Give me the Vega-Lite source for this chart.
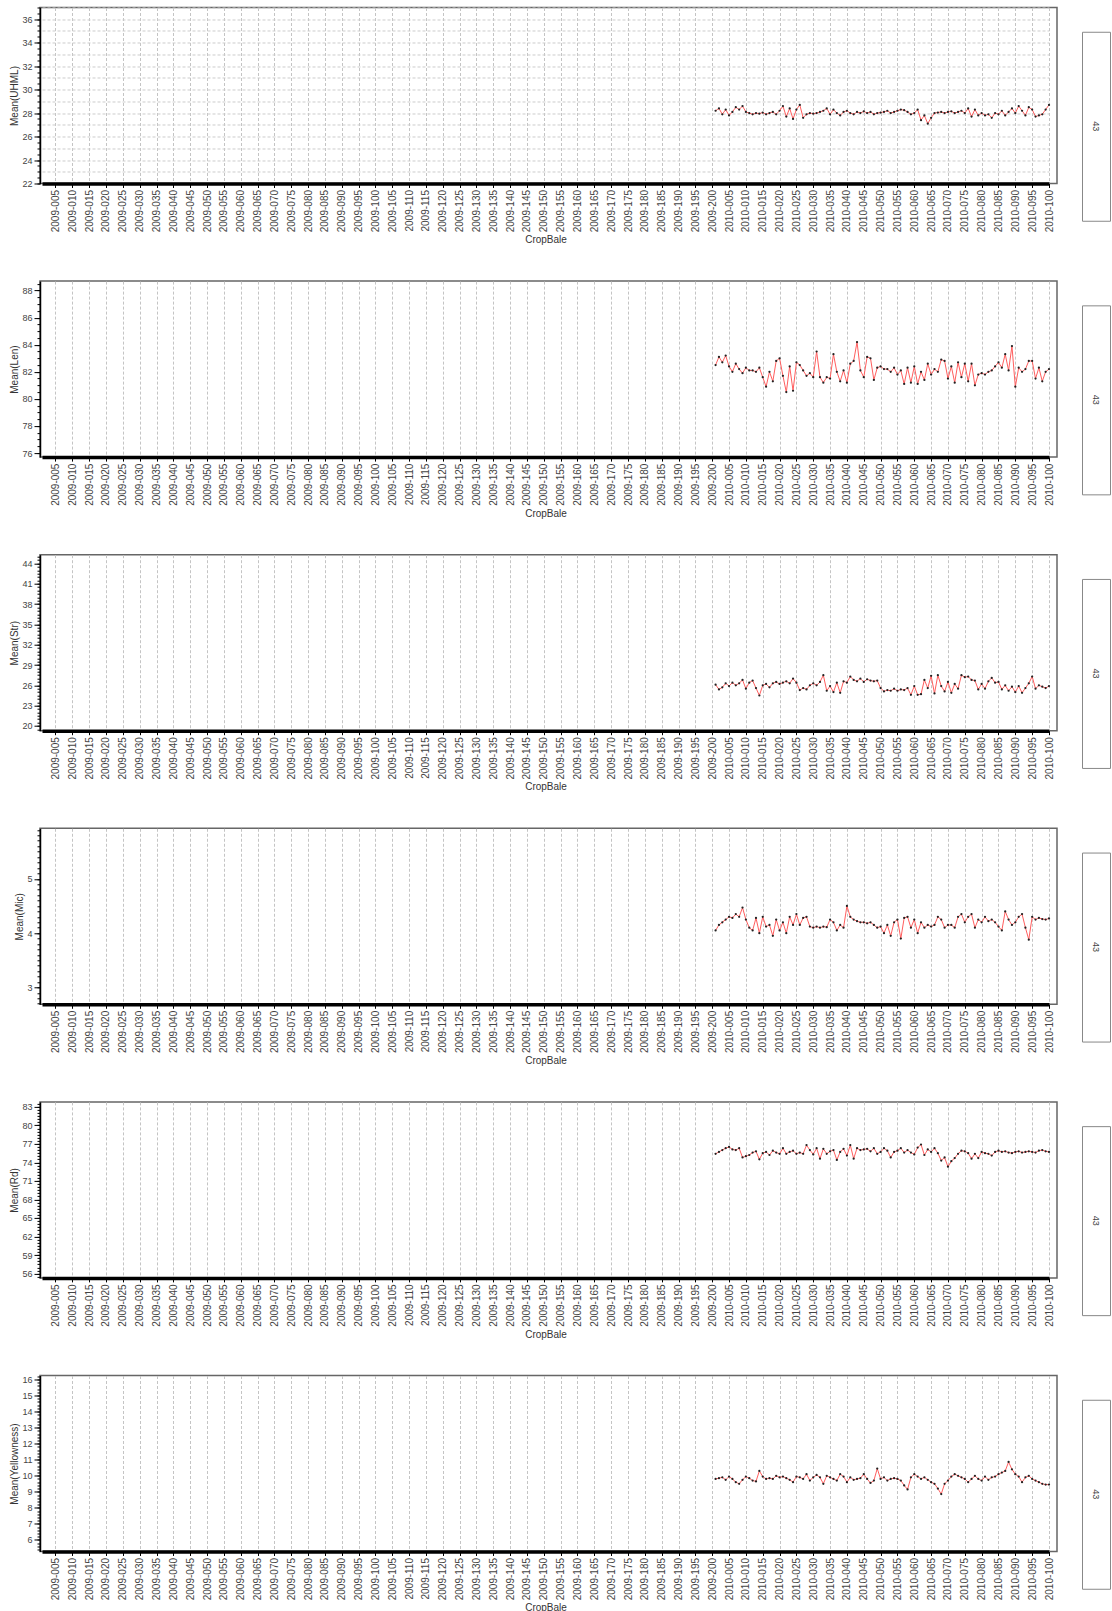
{
"$schema": "https://vega.github.io/schema/vega-lite/v6.json",
"background": "white",
"padding": {"left": 9, "top": 6, "right": 0, "bottom": 0},
"config": {"font": "Liberation Sans", "view": {"stroke": "#666", "strokeWidth": 1.5}, "concat": {"spacing": 23}},
"datasets": {"bales": [
{"CropBale":"2010-001","UHML":28.2,"Len":82.5,"Str":26.1,"Mic":4.05,"Rd":75.4,"Yellowness":9.8},
{"CropBale":"2010-002","UHML":28.4,"Len":83.1,"Str":25.4,"Mic":4.15,"Rd":75.7,"Yellowness":9.85},
{"CropBale":"2010-003","UHML":27.9,"Len":82.7,"Str":25.7,"Mic":4.2,"Rd":76.0,"Yellowness":9.9},
{"CropBale":"2010-004","UHML":28.3,"Len":83.2,"Str":26.3,"Mic":4.25,"Rd":76.3,"Yellowness":9.75},
{"CropBale":"2010-005","UHML":27.8,"Len":82.4,"Str":25.9,"Mic":4.3,"Rd":76.5,"Yellowness":9.95},
{"CropBale":"2010-006","UHML":28.1,"Len":82.0,"Str":26.4,"Mic":4.28,"Rd":76.1,"Yellowness":9.8},
{"CropBale":"2010-007","UHML":28.5,"Len":82.6,"Str":26.0,"Mic":4.35,"Rd":76.0,"Yellowness":9.6},
{"CropBale":"2010-008","UHML":28.3,"Len":82.2,"Str":26.3,"Mic":4.3,"Rd":76.3,"Yellowness":9.5},
{"CropBale":"2010-009","UHML":28.6,"Len":81.9,"Str":26.8,"Mic":4.47,"Rd":74.8,"Yellowness":9.75},
{"CropBale":"2010-010","UHML":28.1,"Len":82.3,"Str":25.5,"Mic":4.25,"Rd":75.0,"Yellowness":9.95},
{"CropBale":"2010-011","UHML":28.0,"Len":82.1,"Str":26.4,"Mic":4.1,"Rd":75.2,"Yellowness":9.85},
{"CropBale":"2010-012","UHML":27.9,"Len":82.1,"Str":26.7,"Mic":4.05,"Rd":75.6,"Yellowness":9.7},
{"CropBale":"2010-013","UHML":28.0,"Len":82.0,"Str":25.6,"Mic":4.28,"Rd":75.8,"Yellowness":9.65},
{"CropBale":"2010-014","UHML":27.95,"Len":82.3,"Str":24.5,"Mic":4.0,"Rd":74.5,"Yellowness":10.3},
{"CropBale":"2010-015","UHML":28.05,"Len":81.6,"Str":26.0,"Mic":4.3,"Rd":75.5,"Yellowness":9.95},
{"CropBale":"2010-016","UHML":27.9,"Len":80.9,"Str":26.2,"Mic":4.12,"Rd":75.7,"Yellowness":9.8},
{"CropBale":"2010-017","UHML":28.0,"Len":82.0,"Str":25.7,"Mic":4.15,"Rd":75.2,"Yellowness":9.85},
{"CropBale":"2010-018","UHML":28.1,"Len":81.3,"Str":26.3,"Mic":3.95,"Rd":75.9,"Yellowness":9.8},
{"CropBale":"2010-019","UHML":27.9,"Len":82.8,"Str":26.5,"Mic":4.25,"Rd":75.6,"Yellowness":10.0},
{"CropBale":"2010-020","UHML":28.2,"Len":83.0,"Str":26.2,"Mic":4.05,"Rd":75.4,"Yellowness":9.9},
{"CropBale":"2010-021","UHML":28.6,"Len":81.7,"Str":26.4,"Mic":4.2,"Rd":76.3,"Yellowness":9.95},
{"CropBale":"2010-022","UHML":27.7,"Len":80.5,"Str":26.6,"Mic":4.0,"Rd":75.4,"Yellowness":9.85},
{"CropBale":"2010-023","UHML":28.4,"Len":82.4,"Str":26.3,"Mic":4.3,"Rd":75.7,"Yellowness":9.75},
{"CropBale":"2010-024","UHML":27.5,"Len":80.6,"Str":27.0,"Mic":4.15,"Rd":75.9,"Yellowness":9.6},
{"CropBale":"2010-025","UHML":28.3,"Len":82.7,"Str":26.4,"Mic":4.35,"Rd":75.4,"Yellowness":9.95},
{"CropBale":"2010-026","UHML":28.7,"Len":82.5,"Str":25.3,"Mic":4.15,"Rd":75.6,"Yellowness":9.9},
{"CropBale":"2010-027","UHML":27.6,"Len":82.1,"Str":25.6,"Mic":4.28,"Rd":75.4,"Yellowness":9.8},
{"CropBale":"2010-028","UHML":27.9,"Len":81.7,"Str":25.4,"Mic":4.3,"Rd":76.8,"Yellowness":10.1},
{"CropBale":"2010-029","UHML":28.0,"Len":81.9,"Str":26.0,"Mic":4.12,"Rd":76.0,"Yellowness":9.7},
{"CropBale":"2010-030","UHML":27.95,"Len":81.6,"Str":26.3,"Mic":4.1,"Rd":75.3,"Yellowness":9.9},
{"CropBale":"2010-031","UHML":28.0,"Len":83.5,"Str":26.0,"Mic":4.12,"Rd":76.3,"Yellowness":10.05},
{"CropBale":"2010-032","UHML":28.1,"Len":81.6,"Str":26.5,"Mic":4.1,"Rd":74.6,"Yellowness":9.9},
{"CropBale":"2010-033","UHML":28.2,"Len":81.2,"Str":27.5,"Mic":4.12,"Rd":76.2,"Yellowness":9.5},
{"CropBale":"2010-034","UHML":28.4,"Len":81.6,"Str":25.2,"Mic":4.11,"Rd":75.4,"Yellowness":10.0},
{"CropBale":"2010-035","UHML":27.9,"Len":81.5,"Str":25.9,"Mic":4.25,"Rd":75.8,"Yellowness":9.9},
{"CropBale":"2010-036","UHML":28.3,"Len":83.3,"Str":25.0,"Mic":4.2,"Rd":76.0,"Yellowness":9.8},
{"CropBale":"2010-037","UHML":28.0,"Len":82.0,"Str":26.4,"Mic":4.05,"Rd":74.4,"Yellowness":9.7},
{"CropBale":"2010-038","UHML":27.8,"Len":81.3,"Str":24.9,"Mic":4.15,"Rd":75.7,"Yellowness":10.1},
{"CropBale":"2010-039","UHML":28.1,"Len":82.1,"Str":26.6,"Mic":4.1,"Rd":76.2,"Yellowness":9.95},
{"CropBale":"2010-040","UHML":28.2,"Len":81.2,"Str":26.4,"Mic":4.5,"Rd":75.1,"Yellowness":9.6},
{"CropBale":"2010-041","UHML":28.0,"Len":82.6,"Str":27.3,"Mic":4.3,"Rd":76.8,"Yellowness":9.9},
{"CropBale":"2010-042","UHML":27.9,"Len":82.8,"Str":26.8,"Mic":4.25,"Rd":74.6,"Yellowness":9.75},
{"CropBale":"2010-043","UHML":28.1,"Len":84.2,"Str":26.6,"Mic":4.22,"Rd":76.3,"Yellowness":9.8},
{"CropBale":"2010-044","UHML":28.0,"Len":82.1,"Str":27.0,"Mic":4.2,"Rd":76.0,"Yellowness":9.85},
{"CropBale":"2010-045","UHML":28.15,"Len":81.6,"Str":26.5,"Mic":4.2,"Rd":76.1,"Yellowness":10.1},
{"CropBale":"2010-046","UHML":28.0,"Len":83.1,"Str":26.9,"Mic":4.18,"Rd":76.2,"Yellowness":9.8},
{"CropBale":"2010-047","UHML":28.1,"Len":83.0,"Str":26.7,"Mic":4.2,"Rd":75.8,"Yellowness":9.55},
{"CropBale":"2010-048","UHML":27.9,"Len":81.4,"Str":26.6,"Mic":4.15,"Rd":76.3,"Yellowness":9.7},
{"CropBale":"2010-049","UHML":28.0,"Len":82.3,"Str":26.7,"Mic":4.1,"Rd":75.4,"Yellowness":10.45},
{"CropBale":"2010-050","UHML":28.05,"Len":82.4,"Str":25.6,"Mic":4.12,"Rd":75.7,"Yellowness":9.8},
{"CropBale":"2010-051","UHML":28.1,"Len":82.2,"Str":25.1,"Mic":4.0,"Rd":76.3,"Yellowness":9.9},
{"CropBale":"2010-052","UHML":28.2,"Len":82.2,"Str":25.3,"Mic":4.15,"Rd":75.9,"Yellowness":9.7},
{"CropBale":"2010-053","UHML":28.0,"Len":82.0,"Str":25.2,"Mic":3.95,"Rd":74.8,"Yellowness":9.8},
{"CropBale":"2010-054","UHML":28.1,"Len":82.3,"Str":25.5,"Mic":4.2,"Rd":75.7,"Yellowness":9.85},
{"CropBale":"2010-055","UHML":28.2,"Len":81.8,"Str":25.2,"Mic":4.25,"Rd":75.9,"Yellowness":9.8},
{"CropBale":"2010-056","UHML":28.3,"Len":82.1,"Str":25.4,"Mic":3.9,"Rd":76.3,"Yellowness":9.7},
{"CropBale":"2010-057","UHML":28.25,"Len":81.1,"Str":25.3,"Mic":4.28,"Rd":75.6,"Yellowness":9.4},
{"CropBale":"2010-058","UHML":28.1,"Len":82.3,"Str":25.6,"Mic":4.3,"Rd":76.0,"Yellowness":9.15},
{"CropBale":"2010-059","UHML":27.9,"Len":81.2,"Str":24.6,"Mic":4.1,"Rd":75.6,"Yellowness":9.9},
{"CropBale":"2010-060","UHML":28.0,"Len":82.4,"Str":25.9,"Mic":4.25,"Rd":75.3,"Yellowness":10.1},
{"CropBale":"2010-061","UHML":28.3,"Len":81.1,"Str":24.6,"Mic":4.0,"Rd":76.4,"Yellowness":9.95},
{"CropBale":"2010-062","UHML":27.4,"Len":82.0,"Str":24.7,"Mic":4.2,"Rd":76.9,"Yellowness":9.8},
{"CropBale":"2010-063","UHML":27.8,"Len":81.4,"Str":26.8,"Mic":4.1,"Rd":75.2,"Yellowness":9.9},
{"CropBale":"2010-064","UHML":27.1,"Len":82.6,"Str":25.6,"Mic":4.15,"Rd":76.1,"Yellowness":9.75},
{"CropBale":"2010-065","UHML":27.6,"Len":81.8,"Str":27.4,"Mic":4.12,"Rd":75.7,"Yellowness":9.6},
{"CropBale":"2010-066","UHML":28.0,"Len":82.2,"Str":24.8,"Mic":4.15,"Rd":76.3,"Yellowness":9.5},
{"CropBale":"2010-067","UHML":28.05,"Len":82.0,"Str":27.5,"Mic":4.3,"Rd":75.5,"Yellowness":9.2},
{"CropBale":"2010-068","UHML":28.1,"Len":82.9,"Str":25.9,"Mic":4.25,"Rd":74.3,"Yellowness":8.86},
{"CropBale":"2010-069","UHML":28.0,"Len":82.8,"Str":25.1,"Mic":4.1,"Rd":74.8,"Yellowness":9.5},
{"CropBale":"2010-070","UHML":28.1,"Len":81.5,"Str":26.5,"Mic":4.15,"Rd":73.3,"Yellowness":9.7},
{"CropBale":"2010-071","UHML":28.15,"Len":82.4,"Str":24.9,"Mic":4.15,"Rd":74.2,"Yellowness":9.95},
{"CropBale":"2010-072","UHML":28.0,"Len":81.2,"Str":26.2,"Mic":4.1,"Rd":74.7,"Yellowness":10.1},
{"CropBale":"2010-073","UHML":28.1,"Len":82.7,"Str":25.5,"Mic":4.3,"Rd":75.4,"Yellowness":10.0},
{"CropBale":"2010-074","UHML":28.2,"Len":81.6,"Str":27.5,"Mic":4.35,"Rd":75.9,"Yellowness":9.9},
{"CropBale":"2010-075","UHML":28.0,"Len":82.6,"Str":27.2,"Mic":4.2,"Rd":75.8,"Yellowness":9.8},
{"CropBale":"2010-076","UHML":28.4,"Len":81.3,"Str":27.3,"Mic":4.3,"Rd":75.5,"Yellowness":9.6},
{"CropBale":"2010-077","UHML":27.7,"Len":82.6,"Str":26.8,"Mic":4.35,"Rd":74.6,"Yellowness":9.8},
{"CropBale":"2010-078","UHML":28.3,"Len":81.0,"Str":26.7,"Mic":4.1,"Rd":75.4,"Yellowness":10.0},
{"CropBale":"2010-079","UHML":27.8,"Len":81.8,"Str":25.4,"Mic":4.25,"Rd":74.7,"Yellowness":9.8},
{"CropBale":"2010-080","UHML":28.0,"Len":81.9,"Str":26.2,"Mic":4.2,"Rd":75.7,"Yellowness":9.7},
{"CropBale":"2010-081","UHML":27.8,"Len":81.8,"Str":25.5,"Mic":4.3,"Rd":75.5,"Yellowness":9.95},
{"CropBale":"2010-082","UHML":27.9,"Len":82.0,"Str":26.6,"Mic":4.22,"Rd":75.4,"Yellowness":9.75},
{"CropBale":"2010-083","UHML":27.6,"Len":82.1,"Str":27.1,"Mic":4.25,"Rd":75.1,"Yellowness":9.9},
{"CropBale":"2010-084","UHML":28.0,"Len":82.4,"Str":26.4,"Mic":4.2,"Rd":75.7,"Yellowness":9.95},
{"CropBale":"2010-085","UHML":27.9,"Len":82.7,"Str":26.5,"Mic":4.12,"Rd":75.9,"Yellowness":10.1},
{"CropBale":"2010-086","UHML":28.2,"Len":82.3,"Str":25.4,"Mic":4.05,"Rd":75.7,"Yellowness":10.2},
{"CropBale":"2010-087","UHML":27.8,"Len":83.3,"Str":26.0,"Mic":4.4,"Rd":75.8,"Yellowness":10.3},
{"CropBale":"2010-088","UHML":28.1,"Len":82.1,"Str":25.2,"Mic":4.25,"Rd":75.6,"Yellowness":10.86},
{"CropBale":"2010-089","UHML":28.4,"Len":83.9,"Str":25.8,"Mic":4.15,"Rd":75.5,"Yellowness":10.4},
{"CropBale":"2010-090","UHML":28.0,"Len":80.9,"Str":25.0,"Mic":4.2,"Rd":75.7,"Yellowness":10.1},
{"CropBale":"2010-091","UHML":28.6,"Len":82.3,"Str":25.9,"Mic":4.3,"Rd":75.8,"Yellowness":9.95},
{"CropBale":"2010-092","UHML":28.2,"Len":82.0,"Str":24.9,"Mic":4.35,"Rd":75.6,"Yellowness":9.6},
{"CropBale":"2010-093","UHML":27.8,"Len":82.2,"Str":25.6,"Mic":4.1,"Rd":75.7,"Yellowness":9.9},
{"CropBale":"2010-094","UHML":28.5,"Len":82.8,"Str":26.3,"Mic":3.88,"Rd":75.8,"Yellowness":10.0},
{"CropBale":"2010-095","UHML":28.3,"Len":82.8,"Str":27.3,"Mic":4.3,"Rd":75.7,"Yellowness":9.8},
{"CropBale":"2010-096","UHML":27.7,"Len":81.5,"Str":25.5,"Mic":4.25,"Rd":75.6,"Yellowness":9.7},
{"CropBale":"2010-097","UHML":27.8,"Len":82.3,"Str":26.0,"Mic":4.28,"Rd":75.9,"Yellowness":9.6},
{"CropBale":"2010-098","UHML":27.9,"Len":81.3,"Str":25.8,"Mic":4.26,"Rd":76.0,"Yellowness":9.5},
{"CropBale":"2010-099","UHML":28.3,"Len":82.0,"Str":25.6,"Mic":4.25,"Rd":75.8,"Yellowness":9.45},
{"CropBale":"2010-100","UHML":28.7,"Len":82.2,"Str":25.9,"Mic":4.27,"Rd":75.7,"Yellowness":9.45}
]},
"vconcat": [
{"center": true, "hconcat": [
{"width": 1017, "height": 176, "data": {"name": "bales"},
 "layer": [
  {"mark": {"type": "line", "color": "#ff5e5e", "strokeWidth": 1},
   "encoding": {
    "x": {"field": "CropBale", "type": "ordinal", "scale": {"type": "point", "padding": 0, "range": [2, 1009], "domain": ["2009-001","2009-002","2009-003","2009-004","2009-005","2009-006","2009-007","2009-008","2009-009","2009-010","2009-011","2009-012","2009-013","2009-014","2009-015","2009-016","2009-017","2009-018","2009-019","2009-020","2009-021","2009-022","2009-023","2009-024","2009-025","2009-026","2009-027","2009-028","2009-029","2009-030","2009-031","2009-032","2009-033","2009-034","2009-035","2009-036","2009-037","2009-038","2009-039","2009-040","2009-041","2009-042","2009-043","2009-044","2009-045","2009-046","2009-047","2009-048","2009-049","2009-050","2009-051","2009-052","2009-053","2009-054","2009-055","2009-056","2009-057","2009-058","2009-059","2009-060","2009-061","2009-062","2009-063","2009-064","2009-065","2009-066","2009-067","2009-068","2009-069","2009-070","2009-071","2009-072","2009-073","2009-074","2009-075","2009-076","2009-077","2009-078","2009-079","2009-080","2009-081","2009-082","2009-083","2009-084","2009-085","2009-086","2009-087","2009-088","2009-089","2009-090","2009-091","2009-092","2009-093","2009-094","2009-095","2009-096","2009-097","2009-098","2009-099","2009-100","2009-101","2009-102","2009-103","2009-104","2009-105","2009-106","2009-107","2009-108","2009-109","2009-110","2009-111","2009-112","2009-113","2009-114","2009-115","2009-116","2009-117","2009-118","2009-119","2009-120","2009-121","2009-122","2009-123","2009-124","2009-125","2009-126","2009-127","2009-128","2009-129","2009-130","2009-131","2009-132","2009-133","2009-134","2009-135","2009-136","2009-137","2009-138","2009-139","2009-140","2009-141","2009-142","2009-143","2009-144","2009-145","2009-146","2009-147","2009-148","2009-149","2009-150","2009-151","2009-152","2009-153","2009-154","2009-155","2009-156","2009-157","2009-158","2009-159","2009-160","2009-161","2009-162","2009-163","2009-164","2009-165","2009-166","2009-167","2009-168","2009-169","2009-170","2009-171","2009-172","2009-173","2009-174","2009-175","2009-176","2009-177","2009-178","2009-179","2009-180","2009-181","2009-182","2009-183","2009-184","2009-185","2009-186","2009-187","2009-188","2009-189","2009-190","2009-191","2009-192","2009-193","2009-194","2009-195","2009-196","2009-197","2009-198","2009-199","2009-200","2010-001","2010-002","2010-003","2010-004","2010-005","2010-006","2010-007","2010-008","2010-009","2010-010","2010-011","2010-012","2010-013","2010-014","2010-015","2010-016","2010-017","2010-018","2010-019","2010-020","2010-021","2010-022","2010-023","2010-024","2010-025","2010-026","2010-027","2010-028","2010-029","2010-030","2010-031","2010-032","2010-033","2010-034","2010-035","2010-036","2010-037","2010-038","2010-039","2010-040","2010-041","2010-042","2010-043","2010-044","2010-045","2010-046","2010-047","2010-048","2010-049","2010-050","2010-051","2010-052","2010-053","2010-054","2010-055","2010-056","2010-057","2010-058","2010-059","2010-060","2010-061","2010-062","2010-063","2010-064","2010-065","2010-066","2010-067","2010-068","2010-069","2010-070","2010-071","2010-072","2010-073","2010-074","2010-075","2010-076","2010-077","2010-078","2010-079","2010-080","2010-081","2010-082","2010-083","2010-084","2010-085","2010-086","2010-087","2010-088","2010-089","2010-090","2010-091","2010-092","2010-093","2010-094","2010-095","2010-096","2010-097","2010-098","2010-099","2010-100"]},
     "axis": {"values": ["2009-005","2009-010","2009-015","2009-020","2009-025","2009-030","2009-035","2009-040","2009-045","2009-050","2009-055","2009-060","2009-065","2009-070","2009-075","2009-080","2009-085","2009-090","2009-095","2009-100","2009-105","2009-110","2009-115","2009-120","2009-125","2009-130","2009-135","2009-140","2009-145","2009-150","2009-155","2009-160","2009-165","2009-170","2009-175","2009-180","2009-185","2009-190","2009-195","2009-200","2010-005","2010-010","2010-015","2010-020","2010-025","2010-030","2010-035","2010-040","2010-045","2010-050","2010-055","2010-060","2010-065","2010-070","2010-075","2010-080","2010-085","2010-090","2010-095","2010-100"], "title": "CropBale", "labelAngle": 270, "labelFontSize": 10, "labelColor": "#444", "labelOverlap": false, "labelPadding": 2, "tickColor": "#000", "tickSize": 4, "domainColor": "#000", "domainWidth": 3.5, "grid": true, "gridColor": "#c4c4c4", "gridDash": [3, 2], "titleFontSize": 10, "titleFontWeight": "normal", "titleColor": "#333", "titlePadding": 3}},
    "y": {"field": "UHML", "type": "quantitative", "scale": {"domain": [22, 37], "nice": false, "zero": false}, "axis": {"title": "Mean(UHML)", "values": [22, 24, 26, 28, 30, 32, 34, 36], "labelFontSize": 9, "labelColor": "#444", "labelFlush": false, "tickSize": 6, "tickColor": "#000", "domainColor": "#000", "domainWidth": 1.5, "grid": false, "titleFontSize": 10, "titleFontWeight": "normal", "titleColor": "#333", "titlePadding": 2}}
   }},
  {"mark": {"type": "point", "filled": true, "color": "#222", "size": 5, "opacity": 1},
   "encoding": {
    "x": {"field": "CropBale", "type": "ordinal"},
    "y": {"field": "UHML", "type": "quantitative", "axis": {"orient": "left", "title": null, "labels": false, "domain": false, "tickSize": 3, "tickColor": "#000", "values": [22, 22.5, 23, 23.5, 24, 24.5, 25, 25.5, 26, 26.5, 27, 27.5, 28, 28.5, 29, 29.5, 30, 30.5, 31, 31.5, 32, 32.5, 33, 33.5, 34, 34.5, 35, 35.5, 36, 36.5, 37], "grid": true, "gridColor": "#cccccc", "gridDash": [3, 2], "gridOpacity": {"condition": {"test": "datum.value % 1 === 0 && datum.value > 22", "value": 1}, "value": 0}}}
   }}
 ],
 "resolve": {"axis": {"y": "independent"}}
},
{"width": 28, "height": 189, "view": {"stroke": "#888", "strokeWidth": 1},
 "data": {"values": [{"Module": "43"}]},
 "mark": {"type": "text", "angle": 90, "fontSize": 9, "color": "#444"},
 "encoding": {"text": {"field": "Module"}}}
]},
{"center": true, "hconcat": [
{"width": 1017, "height": 176, "data": {"name": "bales"},
 "layer": [
  {"mark": {"type": "line", "color": "#ff5e5e", "strokeWidth": 1},
   "encoding": {
    "x": {"field": "CropBale", "type": "ordinal", "scale": {"type": "point", "padding": 0, "range": [2, 1009], "domain": ["2009-001","2009-002","2009-003","2009-004","2009-005","2009-006","2009-007","2009-008","2009-009","2009-010","2009-011","2009-012","2009-013","2009-014","2009-015","2009-016","2009-017","2009-018","2009-019","2009-020","2009-021","2009-022","2009-023","2009-024","2009-025","2009-026","2009-027","2009-028","2009-029","2009-030","2009-031","2009-032","2009-033","2009-034","2009-035","2009-036","2009-037","2009-038","2009-039","2009-040","2009-041","2009-042","2009-043","2009-044","2009-045","2009-046","2009-047","2009-048","2009-049","2009-050","2009-051","2009-052","2009-053","2009-054","2009-055","2009-056","2009-057","2009-058","2009-059","2009-060","2009-061","2009-062","2009-063","2009-064","2009-065","2009-066","2009-067","2009-068","2009-069","2009-070","2009-071","2009-072","2009-073","2009-074","2009-075","2009-076","2009-077","2009-078","2009-079","2009-080","2009-081","2009-082","2009-083","2009-084","2009-085","2009-086","2009-087","2009-088","2009-089","2009-090","2009-091","2009-092","2009-093","2009-094","2009-095","2009-096","2009-097","2009-098","2009-099","2009-100","2009-101","2009-102","2009-103","2009-104","2009-105","2009-106","2009-107","2009-108","2009-109","2009-110","2009-111","2009-112","2009-113","2009-114","2009-115","2009-116","2009-117","2009-118","2009-119","2009-120","2009-121","2009-122","2009-123","2009-124","2009-125","2009-126","2009-127","2009-128","2009-129","2009-130","2009-131","2009-132","2009-133","2009-134","2009-135","2009-136","2009-137","2009-138","2009-139","2009-140","2009-141","2009-142","2009-143","2009-144","2009-145","2009-146","2009-147","2009-148","2009-149","2009-150","2009-151","2009-152","2009-153","2009-154","2009-155","2009-156","2009-157","2009-158","2009-159","2009-160","2009-161","2009-162","2009-163","2009-164","2009-165","2009-166","2009-167","2009-168","2009-169","2009-170","2009-171","2009-172","2009-173","2009-174","2009-175","2009-176","2009-177","2009-178","2009-179","2009-180","2009-181","2009-182","2009-183","2009-184","2009-185","2009-186","2009-187","2009-188","2009-189","2009-190","2009-191","2009-192","2009-193","2009-194","2009-195","2009-196","2009-197","2009-198","2009-199","2009-200","2010-001","2010-002","2010-003","2010-004","2010-005","2010-006","2010-007","2010-008","2010-009","2010-010","2010-011","2010-012","2010-013","2010-014","2010-015","2010-016","2010-017","2010-018","2010-019","2010-020","2010-021","2010-022","2010-023","2010-024","2010-025","2010-026","2010-027","2010-028","2010-029","2010-030","2010-031","2010-032","2010-033","2010-034","2010-035","2010-036","2010-037","2010-038","2010-039","2010-040","2010-041","2010-042","2010-043","2010-044","2010-045","2010-046","2010-047","2010-048","2010-049","2010-050","2010-051","2010-052","2010-053","2010-054","2010-055","2010-056","2010-057","2010-058","2010-059","2010-060","2010-061","2010-062","2010-063","2010-064","2010-065","2010-066","2010-067","2010-068","2010-069","2010-070","2010-071","2010-072","2010-073","2010-074","2010-075","2010-076","2010-077","2010-078","2010-079","2010-080","2010-081","2010-082","2010-083","2010-084","2010-085","2010-086","2010-087","2010-088","2010-089","2010-090","2010-091","2010-092","2010-093","2010-094","2010-095","2010-096","2010-097","2010-098","2010-099","2010-100"]},
     "axis": {"values": ["2009-005","2009-010","2009-015","2009-020","2009-025","2009-030","2009-035","2009-040","2009-045","2009-050","2009-055","2009-060","2009-065","2009-070","2009-075","2009-080","2009-085","2009-090","2009-095","2009-100","2009-105","2009-110","2009-115","2009-120","2009-125","2009-130","2009-135","2009-140","2009-145","2009-150","2009-155","2009-160","2009-165","2009-170","2009-175","2009-180","2009-185","2009-190","2009-195","2009-200","2010-005","2010-010","2010-015","2010-020","2010-025","2010-030","2010-035","2010-040","2010-045","2010-050","2010-055","2010-060","2010-065","2010-070","2010-075","2010-080","2010-085","2010-090","2010-095","2010-100"], "title": "CropBale", "labelAngle": 270, "labelFontSize": 10, "labelColor": "#444", "labelOverlap": false, "labelPadding": 2, "tickColor": "#000", "tickSize": 4, "domainColor": "#000", "domainWidth": 3.5, "grid": true, "gridColor": "#c4c4c4", "gridDash": [3, 2], "titleFontSize": 10, "titleFontWeight": "normal", "titleColor": "#333", "titlePadding": 3}},
    "y": {"field": "Len", "type": "quantitative", "scale": {"domain": [75.7, 88.7], "nice": false, "zero": false}, "axis": {"title": "Mean(Len)", "values": [76, 78, 80, 82, 84, 86, 88], "labelFontSize": 9, "labelColor": "#444", "labelFlush": false, "tickSize": 6, "tickColor": "#000", "domainColor": "#000", "domainWidth": 1.5, "grid": false, "titleFontSize": 10, "titleFontWeight": "normal", "titleColor": "#333", "titlePadding": 2}}
   }},
  {"mark": {"type": "point", "filled": true, "color": "#222", "size": 5, "opacity": 1},
   "encoding": {
    "x": {"field": "CropBale", "type": "ordinal"},
    "y": {"field": "Len", "type": "quantitative", "axis": {"orient": "left", "title": null, "labels": false, "domain": false, "grid": false, "tickSize": 3, "tickColor": "#000", "values": [76, 76.5, 77, 77.5, 78, 78.5, 79, 79.5, 80, 80.5, 81, 81.5, 82, 82.5, 83, 83.5, 84, 84.5, 85, 85.5, 86, 86.5, 87, 87.5, 88, 88.5]}}
   }}
 ],
 "resolve": {"axis": {"y": "independent"}}
},
{"width": 28, "height": 189, "view": {"stroke": "#888", "strokeWidth": 1},
 "data": {"values": [{"Module": "43"}]},
 "mark": {"type": "text", "angle": 90, "fontSize": 9, "color": "#444"},
 "encoding": {"text": {"field": "Module"}}}
]},
{"center": true, "hconcat": [
{"width": 1017, "height": 176, "data": {"name": "bales"},
 "layer": [
  {"mark": {"type": "line", "color": "#ff5e5e", "strokeWidth": 1},
   "encoding": {
    "x": {"field": "CropBale", "type": "ordinal", "scale": {"type": "point", "padding": 0, "range": [2, 1009], "domain": ["2009-001","2009-002","2009-003","2009-004","2009-005","2009-006","2009-007","2009-008","2009-009","2009-010","2009-011","2009-012","2009-013","2009-014","2009-015","2009-016","2009-017","2009-018","2009-019","2009-020","2009-021","2009-022","2009-023","2009-024","2009-025","2009-026","2009-027","2009-028","2009-029","2009-030","2009-031","2009-032","2009-033","2009-034","2009-035","2009-036","2009-037","2009-038","2009-039","2009-040","2009-041","2009-042","2009-043","2009-044","2009-045","2009-046","2009-047","2009-048","2009-049","2009-050","2009-051","2009-052","2009-053","2009-054","2009-055","2009-056","2009-057","2009-058","2009-059","2009-060","2009-061","2009-062","2009-063","2009-064","2009-065","2009-066","2009-067","2009-068","2009-069","2009-070","2009-071","2009-072","2009-073","2009-074","2009-075","2009-076","2009-077","2009-078","2009-079","2009-080","2009-081","2009-082","2009-083","2009-084","2009-085","2009-086","2009-087","2009-088","2009-089","2009-090","2009-091","2009-092","2009-093","2009-094","2009-095","2009-096","2009-097","2009-098","2009-099","2009-100","2009-101","2009-102","2009-103","2009-104","2009-105","2009-106","2009-107","2009-108","2009-109","2009-110","2009-111","2009-112","2009-113","2009-114","2009-115","2009-116","2009-117","2009-118","2009-119","2009-120","2009-121","2009-122","2009-123","2009-124","2009-125","2009-126","2009-127","2009-128","2009-129","2009-130","2009-131","2009-132","2009-133","2009-134","2009-135","2009-136","2009-137","2009-138","2009-139","2009-140","2009-141","2009-142","2009-143","2009-144","2009-145","2009-146","2009-147","2009-148","2009-149","2009-150","2009-151","2009-152","2009-153","2009-154","2009-155","2009-156","2009-157","2009-158","2009-159","2009-160","2009-161","2009-162","2009-163","2009-164","2009-165","2009-166","2009-167","2009-168","2009-169","2009-170","2009-171","2009-172","2009-173","2009-174","2009-175","2009-176","2009-177","2009-178","2009-179","2009-180","2009-181","2009-182","2009-183","2009-184","2009-185","2009-186","2009-187","2009-188","2009-189","2009-190","2009-191","2009-192","2009-193","2009-194","2009-195","2009-196","2009-197","2009-198","2009-199","2009-200","2010-001","2010-002","2010-003","2010-004","2010-005","2010-006","2010-007","2010-008","2010-009","2010-010","2010-011","2010-012","2010-013","2010-014","2010-015","2010-016","2010-017","2010-018","2010-019","2010-020","2010-021","2010-022","2010-023","2010-024","2010-025","2010-026","2010-027","2010-028","2010-029","2010-030","2010-031","2010-032","2010-033","2010-034","2010-035","2010-036","2010-037","2010-038","2010-039","2010-040","2010-041","2010-042","2010-043","2010-044","2010-045","2010-046","2010-047","2010-048","2010-049","2010-050","2010-051","2010-052","2010-053","2010-054","2010-055","2010-056","2010-057","2010-058","2010-059","2010-060","2010-061","2010-062","2010-063","2010-064","2010-065","2010-066","2010-067","2010-068","2010-069","2010-070","2010-071","2010-072","2010-073","2010-074","2010-075","2010-076","2010-077","2010-078","2010-079","2010-080","2010-081","2010-082","2010-083","2010-084","2010-085","2010-086","2010-087","2010-088","2010-089","2010-090","2010-091","2010-092","2010-093","2010-094","2010-095","2010-096","2010-097","2010-098","2010-099","2010-100"]},
     "axis": {"values": ["2009-005","2009-010","2009-015","2009-020","2009-025","2009-030","2009-035","2009-040","2009-045","2009-050","2009-055","2009-060","2009-065","2009-070","2009-075","2009-080","2009-085","2009-090","2009-095","2009-100","2009-105","2009-110","2009-115","2009-120","2009-125","2009-130","2009-135","2009-140","2009-145","2009-150","2009-155","2009-160","2009-165","2009-170","2009-175","2009-180","2009-185","2009-190","2009-195","2009-200","2010-005","2010-010","2010-015","2010-020","2010-025","2010-030","2010-035","2010-040","2010-045","2010-050","2010-055","2010-060","2010-065","2010-070","2010-075","2010-080","2010-085","2010-090","2010-095","2010-100"], "title": "CropBale", "labelAngle": 270, "labelFontSize": 10, "labelColor": "#444", "labelOverlap": false, "labelPadding": 2, "tickColor": "#000", "tickSize": 4, "domainColor": "#000", "domainWidth": 3.5, "grid": true, "gridColor": "#c4c4c4", "gridDash": [3, 2], "titleFontSize": 10, "titleFontWeight": "normal", "titleColor": "#333", "titlePadding": 3}},
    "y": {"field": "Str", "type": "quantitative", "scale": {"domain": [19.3, 45.3], "nice": false, "zero": false}, "axis": {"title": "Mean(Str)", "values": [20, 23, 26, 29, 32, 35, 38, 41, 44], "labelFontSize": 9, "labelColor": "#444", "labelFlush": false, "tickSize": 6, "tickColor": "#000", "domainColor": "#000", "domainWidth": 1.5, "grid": false, "titleFontSize": 10, "titleFontWeight": "normal", "titleColor": "#333", "titlePadding": 2}}
   }},
  {"mark": {"type": "point", "filled": true, "color": "#222", "size": 5, "opacity": 1},
   "encoding": {
    "x": {"field": "CropBale", "type": "ordinal"},
    "y": {"field": "Str", "type": "quantitative", "axis": {"orient": "left", "title": null, "labels": false, "domain": false, "grid": false, "tickSize": 3, "tickColor": "#000", "values": [19.5, 20, 20.5, 21, 21.5, 22, 22.5, 23, 23.5, 24, 24.5, 25, 25.5, 26, 26.5, 27, 27.5, 28, 28.5, 29, 29.5, 30, 30.5, 31, 31.5, 32, 32.5, 33, 33.5, 34, 34.5, 35, 35.5, 36, 36.5, 37, 37.5, 38, 38.5, 39, 39.5, 40, 40.5, 41, 41.5, 42, 42.5, 43, 43.5, 44, 44.5, 45]}}
   }}
 ],
 "resolve": {"axis": {"y": "independent"}}
},
{"width": 28, "height": 189, "view": {"stroke": "#888", "strokeWidth": 1},
 "data": {"values": [{"Module": "43"}]},
 "mark": {"type": "text", "angle": 90, "fontSize": 9, "color": "#444"},
 "encoding": {"text": {"field": "Module"}}}
]},
{"center": true, "hconcat": [
{"width": 1017, "height": 176, "data": {"name": "bales"},
 "layer": [
  {"mark": {"type": "line", "color": "#ff5e5e", "strokeWidth": 1},
   "encoding": {
    "x": {"field": "CropBale", "type": "ordinal", "scale": {"type": "point", "padding": 0, "range": [2, 1009], "domain": ["2009-001","2009-002","2009-003","2009-004","2009-005","2009-006","2009-007","2009-008","2009-009","2009-010","2009-011","2009-012","2009-013","2009-014","2009-015","2009-016","2009-017","2009-018","2009-019","2009-020","2009-021","2009-022","2009-023","2009-024","2009-025","2009-026","2009-027","2009-028","2009-029","2009-030","2009-031","2009-032","2009-033","2009-034","2009-035","2009-036","2009-037","2009-038","2009-039","2009-040","2009-041","2009-042","2009-043","2009-044","2009-045","2009-046","2009-047","2009-048","2009-049","2009-050","2009-051","2009-052","2009-053","2009-054","2009-055","2009-056","2009-057","2009-058","2009-059","2009-060","2009-061","2009-062","2009-063","2009-064","2009-065","2009-066","2009-067","2009-068","2009-069","2009-070","2009-071","2009-072","2009-073","2009-074","2009-075","2009-076","2009-077","2009-078","2009-079","2009-080","2009-081","2009-082","2009-083","2009-084","2009-085","2009-086","2009-087","2009-088","2009-089","2009-090","2009-091","2009-092","2009-093","2009-094","2009-095","2009-096","2009-097","2009-098","2009-099","2009-100","2009-101","2009-102","2009-103","2009-104","2009-105","2009-106","2009-107","2009-108","2009-109","2009-110","2009-111","2009-112","2009-113","2009-114","2009-115","2009-116","2009-117","2009-118","2009-119","2009-120","2009-121","2009-122","2009-123","2009-124","2009-125","2009-126","2009-127","2009-128","2009-129","2009-130","2009-131","2009-132","2009-133","2009-134","2009-135","2009-136","2009-137","2009-138","2009-139","2009-140","2009-141","2009-142","2009-143","2009-144","2009-145","2009-146","2009-147","2009-148","2009-149","2009-150","2009-151","2009-152","2009-153","2009-154","2009-155","2009-156","2009-157","2009-158","2009-159","2009-160","2009-161","2009-162","2009-163","2009-164","2009-165","2009-166","2009-167","2009-168","2009-169","2009-170","2009-171","2009-172","2009-173","2009-174","2009-175","2009-176","2009-177","2009-178","2009-179","2009-180","2009-181","2009-182","2009-183","2009-184","2009-185","2009-186","2009-187","2009-188","2009-189","2009-190","2009-191","2009-192","2009-193","2009-194","2009-195","2009-196","2009-197","2009-198","2009-199","2009-200","2010-001","2010-002","2010-003","2010-004","2010-005","2010-006","2010-007","2010-008","2010-009","2010-010","2010-011","2010-012","2010-013","2010-014","2010-015","2010-016","2010-017","2010-018","2010-019","2010-020","2010-021","2010-022","2010-023","2010-024","2010-025","2010-026","2010-027","2010-028","2010-029","2010-030","2010-031","2010-032","2010-033","2010-034","2010-035","2010-036","2010-037","2010-038","2010-039","2010-040","2010-041","2010-042","2010-043","2010-044","2010-045","2010-046","2010-047","2010-048","2010-049","2010-050","2010-051","2010-052","2010-053","2010-054","2010-055","2010-056","2010-057","2010-058","2010-059","2010-060","2010-061","2010-062","2010-063","2010-064","2010-065","2010-066","2010-067","2010-068","2010-069","2010-070","2010-071","2010-072","2010-073","2010-074","2010-075","2010-076","2010-077","2010-078","2010-079","2010-080","2010-081","2010-082","2010-083","2010-084","2010-085","2010-086","2010-087","2010-088","2010-089","2010-090","2010-091","2010-092","2010-093","2010-094","2010-095","2010-096","2010-097","2010-098","2010-099","2010-100"]},
     "axis": {"values": ["2009-005","2009-010","2009-015","2009-020","2009-025","2009-030","2009-035","2009-040","2009-045","2009-050","2009-055","2009-060","2009-065","2009-070","2009-075","2009-080","2009-085","2009-090","2009-095","2009-100","2009-105","2009-110","2009-115","2009-120","2009-125","2009-130","2009-135","2009-140","2009-145","2009-150","2009-155","2009-160","2009-165","2009-170","2009-175","2009-180","2009-185","2009-190","2009-195","2009-200","2010-005","2010-010","2010-015","2010-020","2010-025","2010-030","2010-035","2010-040","2010-045","2010-050","2010-055","2010-060","2010-065","2010-070","2010-075","2010-080","2010-085","2010-090","2010-095","2010-100"], "title": "CropBale", "labelAngle": 270, "labelFontSize": 10, "labelColor": "#444", "labelOverlap": false, "labelPadding": 2, "tickColor": "#000", "tickSize": 4, "domainColor": "#000", "domainWidth": 3.5, "grid": true, "gridColor": "#c4c4c4", "gridDash": [3, 2], "titleFontSize": 10, "titleFontWeight": "normal", "titleColor": "#333", "titlePadding": 3}},
    "y": {"field": "Mic", "type": "quantitative", "scale": {"domain": [2.69, 5.93], "nice": false, "zero": false}, "axis": {"title": "Mean(Mic)", "values": [3, 4, 5], "labelFontSize": 9, "labelColor": "#444", "labelFlush": false, "tickSize": 6, "tickColor": "#000", "domainColor": "#000", "domainWidth": 1.5, "grid": false, "titleFontSize": 10, "titleFontWeight": "normal", "titleColor": "#333", "titlePadding": 2}}
   }},
  {"mark": {"type": "point", "filled": true, "color": "#222", "size": 5, "opacity": 1},
   "encoding": {
    "x": {"field": "CropBale", "type": "ordinal"},
    "y": {"field": "Mic", "type": "quantitative", "axis": {"orient": "left", "title": null, "labels": false, "domain": false, "grid": false, "tickSize": 3, "tickColor": "#000", "values": [2.7, 2.8, 2.9, 3.0, 3.1, 3.2, 3.3, 3.4, 3.5, 3.6, 3.7, 3.8, 3.9, 4.0, 4.1, 4.2, 4.3, 4.4, 4.5, 4.6, 4.7, 4.8, 4.9, 5.0, 5.1, 5.2, 5.3, 5.4, 5.5, 5.6, 5.7, 5.8, 5.9]}}
   }}
 ],
 "resolve": {"axis": {"y": "independent"}}
},
{"width": 28, "height": 189, "view": {"stroke": "#888", "strokeWidth": 1},
 "data": {"values": [{"Module": "43"}]},
 "mark": {"type": "text", "angle": 90, "fontSize": 9, "color": "#444"},
 "encoding": {"text": {"field": "Module"}}}
]},
{"center": true, "hconcat": [
{"width": 1017, "height": 176, "data": {"name": "bales"},
 "layer": [
  {"mark": {"type": "line", "color": "#ff5e5e", "strokeWidth": 1},
   "encoding": {
    "x": {"field": "CropBale", "type": "ordinal", "scale": {"type": "point", "padding": 0, "range": [2, 1009], "domain": ["2009-001","2009-002","2009-003","2009-004","2009-005","2009-006","2009-007","2009-008","2009-009","2009-010","2009-011","2009-012","2009-013","2009-014","2009-015","2009-016","2009-017","2009-018","2009-019","2009-020","2009-021","2009-022","2009-023","2009-024","2009-025","2009-026","2009-027","2009-028","2009-029","2009-030","2009-031","2009-032","2009-033","2009-034","2009-035","2009-036","2009-037","2009-038","2009-039","2009-040","2009-041","2009-042","2009-043","2009-044","2009-045","2009-046","2009-047","2009-048","2009-049","2009-050","2009-051","2009-052","2009-053","2009-054","2009-055","2009-056","2009-057","2009-058","2009-059","2009-060","2009-061","2009-062","2009-063","2009-064","2009-065","2009-066","2009-067","2009-068","2009-069","2009-070","2009-071","2009-072","2009-073","2009-074","2009-075","2009-076","2009-077","2009-078","2009-079","2009-080","2009-081","2009-082","2009-083","2009-084","2009-085","2009-086","2009-087","2009-088","2009-089","2009-090","2009-091","2009-092","2009-093","2009-094","2009-095","2009-096","2009-097","2009-098","2009-099","2009-100","2009-101","2009-102","2009-103","2009-104","2009-105","2009-106","2009-107","2009-108","2009-109","2009-110","2009-111","2009-112","2009-113","2009-114","2009-115","2009-116","2009-117","2009-118","2009-119","2009-120","2009-121","2009-122","2009-123","2009-124","2009-125","2009-126","2009-127","2009-128","2009-129","2009-130","2009-131","2009-132","2009-133","2009-134","2009-135","2009-136","2009-137","2009-138","2009-139","2009-140","2009-141","2009-142","2009-143","2009-144","2009-145","2009-146","2009-147","2009-148","2009-149","2009-150","2009-151","2009-152","2009-153","2009-154","2009-155","2009-156","2009-157","2009-158","2009-159","2009-160","2009-161","2009-162","2009-163","2009-164","2009-165","2009-166","2009-167","2009-168","2009-169","2009-170","2009-171","2009-172","2009-173","2009-174","2009-175","2009-176","2009-177","2009-178","2009-179","2009-180","2009-181","2009-182","2009-183","2009-184","2009-185","2009-186","2009-187","2009-188","2009-189","2009-190","2009-191","2009-192","2009-193","2009-194","2009-195","2009-196","2009-197","2009-198","2009-199","2009-200","2010-001","2010-002","2010-003","2010-004","2010-005","2010-006","2010-007","2010-008","2010-009","2010-010","2010-011","2010-012","2010-013","2010-014","2010-015","2010-016","2010-017","2010-018","2010-019","2010-020","2010-021","2010-022","2010-023","2010-024","2010-025","2010-026","2010-027","2010-028","2010-029","2010-030","2010-031","2010-032","2010-033","2010-034","2010-035","2010-036","2010-037","2010-038","2010-039","2010-040","2010-041","2010-042","2010-043","2010-044","2010-045","2010-046","2010-047","2010-048","2010-049","2010-050","2010-051","2010-052","2010-053","2010-054","2010-055","2010-056","2010-057","2010-058","2010-059","2010-060","2010-061","2010-062","2010-063","2010-064","2010-065","2010-066","2010-067","2010-068","2010-069","2010-070","2010-071","2010-072","2010-073","2010-074","2010-075","2010-076","2010-077","2010-078","2010-079","2010-080","2010-081","2010-082","2010-083","2010-084","2010-085","2010-086","2010-087","2010-088","2010-089","2010-090","2010-091","2010-092","2010-093","2010-094","2010-095","2010-096","2010-097","2010-098","2010-099","2010-100"]},
     "axis": {"values": ["2009-005","2009-010","2009-015","2009-020","2009-025","2009-030","2009-035","2009-040","2009-045","2009-050","2009-055","2009-060","2009-065","2009-070","2009-075","2009-080","2009-085","2009-090","2009-095","2009-100","2009-105","2009-110","2009-115","2009-120","2009-125","2009-130","2009-135","2009-140","2009-145","2009-150","2009-155","2009-160","2009-165","2009-170","2009-175","2009-180","2009-185","2009-190","2009-195","2009-200","2010-005","2010-010","2010-015","2010-020","2010-025","2010-030","2010-035","2010-040","2010-045","2010-050","2010-055","2010-060","2010-065","2010-070","2010-075","2010-080","2010-085","2010-090","2010-095","2010-100"], "title": "CropBale", "labelAngle": 270, "labelFontSize": 10, "labelColor": "#444", "labelOverlap": false, "labelPadding": 2, "tickColor": "#000", "tickSize": 4, "domainColor": "#000", "domainWidth": 3.5, "grid": true, "gridColor": "#c4c4c4", "gridDash": [3, 2], "titleFontSize": 10, "titleFontWeight": "normal", "titleColor": "#333", "titlePadding": 3}},
    "y": {"field": "Rd", "type": "quantitative", "scale": {"domain": [55.3, 83.8], "nice": false, "zero": false}, "axis": {"title": "Mean(Rd)", "values": [56, 59, 62, 65, 68, 71, 74, 77, 80, 83], "labelFontSize": 9, "labelColor": "#444", "labelFlush": false, "tickSize": 6, "tickColor": "#000", "domainColor": "#000", "domainWidth": 1.5, "grid": false, "titleFontSize": 10, "titleFontWeight": "normal", "titleColor": "#333", "titlePadding": 2}}
   }},
  {"mark": {"type": "point", "filled": true, "color": "#222", "size": 5, "opacity": 1},
   "encoding": {
    "x": {"field": "CropBale", "type": "ordinal"},
    "y": {"field": "Rd", "type": "quantitative", "axis": {"orient": "left", "title": null, "labels": false, "domain": false, "grid": false, "tickSize": 3, "tickColor": "#000", "values": [55.5, 56, 56.5, 57, 57.5, 58, 58.5, 59, 59.5, 60, 60.5, 61, 61.5, 62, 62.5, 63, 63.5, 64, 64.5, 65, 65.5, 66, 66.5, 67, 67.5, 68, 68.5, 69, 69.5, 70, 70.5, 71, 71.5, 72, 72.5, 73, 73.5, 74, 74.5, 75, 75.5, 76, 76.5, 77, 77.5, 78, 78.5, 79, 79.5, 80, 80.5, 81, 81.5, 82, 82.5, 83, 83.5]}}
   }}
 ],
 "resolve": {"axis": {"y": "independent"}}
},
{"width": 28, "height": 189, "view": {"stroke": "#888", "strokeWidth": 1},
 "data": {"values": [{"Module": "43"}]},
 "mark": {"type": "text", "angle": 90, "fontSize": 9, "color": "#444"},
 "encoding": {"text": {"field": "Module"}}}
]},
{"center": true, "hconcat": [
{"width": 1017, "height": 176, "data": {"name": "bales"},
 "layer": [
  {"mark": {"type": "line", "color": "#ff5e5e", "strokeWidth": 1},
   "encoding": {
    "x": {"field": "CropBale", "type": "ordinal", "scale": {"type": "point", "padding": 0, "range": [2, 1009], "domain": ["2009-001","2009-002","2009-003","2009-004","2009-005","2009-006","2009-007","2009-008","2009-009","2009-010","2009-011","2009-012","2009-013","2009-014","2009-015","2009-016","2009-017","2009-018","2009-019","2009-020","2009-021","2009-022","2009-023","2009-024","2009-025","2009-026","2009-027","2009-028","2009-029","2009-030","2009-031","2009-032","2009-033","2009-034","2009-035","2009-036","2009-037","2009-038","2009-039","2009-040","2009-041","2009-042","2009-043","2009-044","2009-045","2009-046","2009-047","2009-048","2009-049","2009-050","2009-051","2009-052","2009-053","2009-054","2009-055","2009-056","2009-057","2009-058","2009-059","2009-060","2009-061","2009-062","2009-063","2009-064","2009-065","2009-066","2009-067","2009-068","2009-069","2009-070","2009-071","2009-072","2009-073","2009-074","2009-075","2009-076","2009-077","2009-078","2009-079","2009-080","2009-081","2009-082","2009-083","2009-084","2009-085","2009-086","2009-087","2009-088","2009-089","2009-090","2009-091","2009-092","2009-093","2009-094","2009-095","2009-096","2009-097","2009-098","2009-099","2009-100","2009-101","2009-102","2009-103","2009-104","2009-105","2009-106","2009-107","2009-108","2009-109","2009-110","2009-111","2009-112","2009-113","2009-114","2009-115","2009-116","2009-117","2009-118","2009-119","2009-120","2009-121","2009-122","2009-123","2009-124","2009-125","2009-126","2009-127","2009-128","2009-129","2009-130","2009-131","2009-132","2009-133","2009-134","2009-135","2009-136","2009-137","2009-138","2009-139","2009-140","2009-141","2009-142","2009-143","2009-144","2009-145","2009-146","2009-147","2009-148","2009-149","2009-150","2009-151","2009-152","2009-153","2009-154","2009-155","2009-156","2009-157","2009-158","2009-159","2009-160","2009-161","2009-162","2009-163","2009-164","2009-165","2009-166","2009-167","2009-168","2009-169","2009-170","2009-171","2009-172","2009-173","2009-174","2009-175","2009-176","2009-177","2009-178","2009-179","2009-180","2009-181","2009-182","2009-183","2009-184","2009-185","2009-186","2009-187","2009-188","2009-189","2009-190","2009-191","2009-192","2009-193","2009-194","2009-195","2009-196","2009-197","2009-198","2009-199","2009-200","2010-001","2010-002","2010-003","2010-004","2010-005","2010-006","2010-007","2010-008","2010-009","2010-010","2010-011","2010-012","2010-013","2010-014","2010-015","2010-016","2010-017","2010-018","2010-019","2010-020","2010-021","2010-022","2010-023","2010-024","2010-025","2010-026","2010-027","2010-028","2010-029","2010-030","2010-031","2010-032","2010-033","2010-034","2010-035","2010-036","2010-037","2010-038","2010-039","2010-040","2010-041","2010-042","2010-043","2010-044","2010-045","2010-046","2010-047","2010-048","2010-049","2010-050","2010-051","2010-052","2010-053","2010-054","2010-055","2010-056","2010-057","2010-058","2010-059","2010-060","2010-061","2010-062","2010-063","2010-064","2010-065","2010-066","2010-067","2010-068","2010-069","2010-070","2010-071","2010-072","2010-073","2010-074","2010-075","2010-076","2010-077","2010-078","2010-079","2010-080","2010-081","2010-082","2010-083","2010-084","2010-085","2010-086","2010-087","2010-088","2010-089","2010-090","2010-091","2010-092","2010-093","2010-094","2010-095","2010-096","2010-097","2010-098","2010-099","2010-100"]},
     "axis": {"values": ["2009-005","2009-010","2009-015","2009-020","2009-025","2009-030","2009-035","2009-040","2009-045","2009-050","2009-055","2009-060","2009-065","2009-070","2009-075","2009-080","2009-085","2009-090","2009-095","2009-100","2009-105","2009-110","2009-115","2009-120","2009-125","2009-130","2009-135","2009-140","2009-145","2009-150","2009-155","2009-160","2009-165","2009-170","2009-175","2009-180","2009-185","2009-190","2009-195","2009-200","2010-005","2010-010","2010-015","2010-020","2010-025","2010-030","2010-035","2010-040","2010-045","2010-050","2010-055","2010-060","2010-065","2010-070","2010-075","2010-080","2010-085","2010-090","2010-095","2010-100"], "title": "CropBale", "labelAngle": 270, "labelFontSize": 10, "labelColor": "#444", "labelOverlap": false, "labelPadding": 2, "tickColor": "#000", "tickSize": 4, "domainColor": "#000", "domainWidth": 3.5, "grid": true, "gridColor": "#c4c4c4", "gridDash": [3, 2], "titleFontSize": 10, "titleFontWeight": "normal", "titleColor": "#333", "titlePadding": 3}},
    "y": {"field": "Yellowness", "type": "quantitative", "scale": {"domain": [5.28, 16.25], "nice": false, "zero": false}, "axis": {"title": "Mean(Yellowness)", "values": [6, 7, 8, 9, 10, 11, 12, 13, 14, 15, 16], "labelFontSize": 9, "labelColor": "#444", "labelFlush": false, "tickSize": 6, "tickColor": "#000", "domainColor": "#000", "domainWidth": 1.5, "grid": false, "titleFontSize": 10, "titleFontWeight": "normal", "titleColor": "#333", "titlePadding": 2}}
   }},
  {"mark": {"type": "point", "filled": true, "color": "#222", "size": 5, "opacity": 1},
   "encoding": {
    "x": {"field": "CropBale", "type": "ordinal"},
    "y": {"field": "Yellowness", "type": "quantitative", "axis": {"orient": "left", "title": null, "labels": false, "domain": false, "grid": false, "tickSize": 3, "tickColor": "#000", "values": [5.4, 5.6, 5.8, 6.0, 6.2, 6.4, 6.6, 6.8, 7.0, 7.2, 7.4, 7.6, 7.8, 8.0, 8.2, 8.4, 8.6, 8.8, 9.0, 9.2, 9.4, 9.6, 9.8, 10.0, 10.2, 10.4, 10.6, 10.8, 11.0, 11.2, 11.4, 11.6, 11.8, 12.0, 12.2, 12.4, 12.6, 12.8, 13.0, 13.2, 13.4, 13.6, 13.8, 14.0, 14.2, 14.4, 14.6, 14.8, 15.0, 15.2, 15.4, 15.6, 15.8, 16.0, 16.2]}}
   }}
 ],
 "resolve": {"axis": {"y": "independent"}}
},
{"width": 28, "height": 189, "view": {"stroke": "#888", "strokeWidth": 1},
 "data": {"values": [{"Module": "43"}]},
 "mark": {"type": "text", "angle": 90, "fontSize": 9, "color": "#444"},
 "encoding": {"text": {"field": "Module"}}}
]}
],
"spacing": 33.6
}
